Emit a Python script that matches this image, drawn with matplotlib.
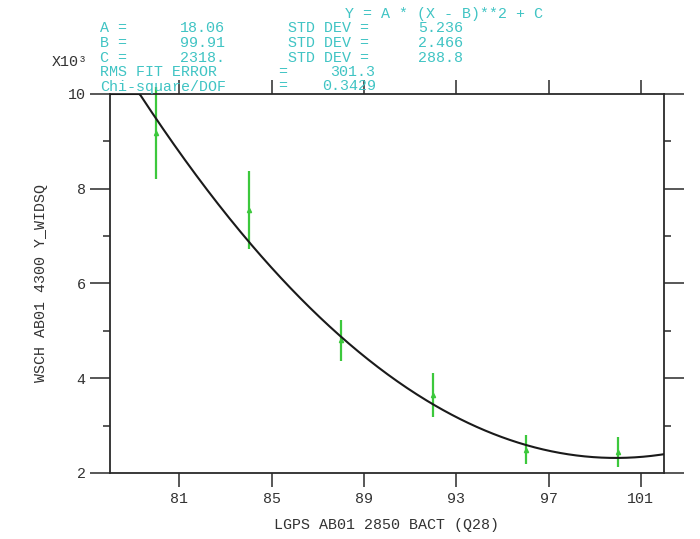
import numpy as np
import matplotlib
matplotlib.use("Agg")
import matplotlib.pyplot as plt
from matplotlib.ticker import MultipleLocator

# datos medidos (Y en unidades crudas, eje en x10^3)
x_pts = [80, 84, 88, 92, 96, 100]
y_pts = [9180, 7550, 4800, 3650, 2490, 2450]
y_err = [970, 830, 430, 470, 310, 320]

# parametros del ajuste Y = A*(X-B)**2 + C
A, B, C = 18.06, 99.91, 2318.
A_sd, B_sd, C_sd = 5.236, 2.466, 288.8
rms_err = 301.3
chi2_dof = 0.3429

xticks = [81, 85, 89, 93, 97, 101]
yticks = [2, 4, 6, 8, 10]

TXT = "#40c4c4"
FONT = "Liberation Mono"
W, H = 700, 539

fig = plt.figure(figsize=(7.0, 5.39), dpi=100)
ax = fig.add_axes([110 / W, 1 - 473 / H, (664 - 110) / W, (473 - 94) / H])

# curva del ajuste, recortada al tope del eje
xc = np.linspace(78, 102, 400)
yc = np.minimum(A * (xc - B) ** 2 + C, 10000)
ax.plot(xc, yc / 1000, color="#1a1a1a", lw=1.5, zorder=3)

ax.errorbar(x_pts, np.array(y_pts) / 1000, yerr=np.array(y_err) / 1000,
            fmt="^", ms=3, color="#3cc83c", ecolor="#3cc83c", elinewidth=1.6,
            capsize=0, clip_on=False, zorder=2)

ax.set_xlim(78, 102)
ax.set_ylim(2, 10)
ax.set_xticks(xticks)
ax.set_yticks(yticks)
ax.yaxis.set_minor_locator(MultipleLocator(1))

for sp in ax.spines.values():
    sp.set_color("#2a2a2a")
    sp.set_linewidth(1.3)

ax.tick_params(axis="x", which="major", direction="out", length=10, width=1.1,
               top=True, labeltop=False, color="#2a2a2a", pad=4)
ax.tick_params(axis="y", which="major", direction="out", length=14.5, width=1.1,
               right=True, color="#2a2a2a", pad=3)
ax.tick_params(axis="y", which="minor", direction="out", length=5, width=1.1,
               right=True, color="#2a2a2a")
ax.tick_params(labelsize=10.8, labelcolor="#333333")
for lbl in ax.get_xticklabels() + ax.get_yticklabels():
    lbl.set_family(FONT)

ax.set_xlabel("LGPS AB01 2850 BACT (Q28)", family=FONT, fontsize=10.8,
              color="#333333", labelpad=8)
ax.set_ylabel("WSCH AB01 4300 Y_WIDSQ", family=FONT, fontsize=10.8,
              color="#333333", labelpad=14)


def ftxt(px, py, s, color=TXT):
    fig.text(px / W, 1 - py / H, s, family=FONT, fontsize=10.8, color=color,
             ha="left", va="center")


ftxt(345, 14, "Y = A * (X - B)**2 + C")
filas = [("A =", A, A_sd), ("B =", B, B_sd), ("C =", C, C_sd)]
for i, (nom, val, sd) in enumerate(filas):
    py = 28.5 + i * 14.5
    ftxt(100, py, nom)
    ftxt(180, py, f"{val:.4g}" + ("." if float(val).is_integer() else ""))
    ftxt(288, py, "STD DEV =")
    ftxt(418, py, f"{sd:.4g}")
ftxt(100, 72, "RMS FIT ERROR")
ftxt(278, 72, "=")
ftxt(330, 72, f"{rms_err:.4g}")
ftxt(100, 86.5, "Chi-square/DOF")
ftxt(278, 86.5, "=")
ftxt(322, 86.5, f"{chi2_dof:.4g}")
ftxt(52, 62, "X10³", color="#333333")

fig.savefig("out.png", dpi=100, facecolor="white")
